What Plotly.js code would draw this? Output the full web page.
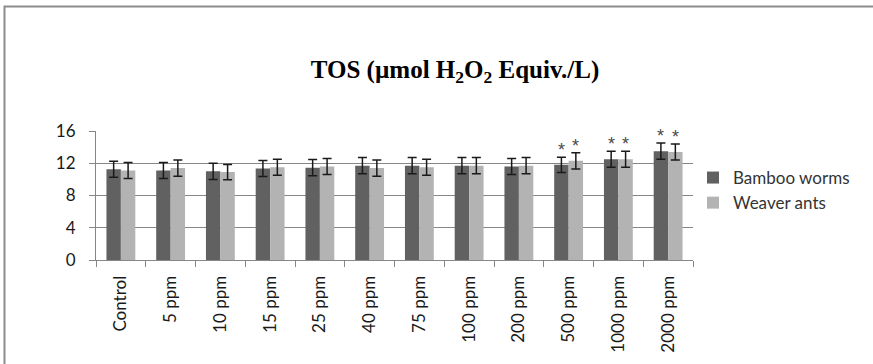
<!DOCTYPE html>
<html>
<head>
<meta charset="utf-8">
<script src="https://cdn.plot.ly/plotly-3.0.1.min.js"></script>
<style>html,body{margin:0;padding:0;background:#fff;}#chart{width:873px;height:364px;}</style>
</head>
<body>
<div id="chart"></div>
<script>
const categories = ["Control","5 ppm","10 ppm","15 ppm","25 ppm","40 ppm","75 ppm","100 ppm","200 ppm","500 ppm","1000 ppm","2000 ppm"];
const bambooWorms = [11.25, 11.1, 11.0, 11.35, 11.45, 11.7, 11.7, 11.7, 11.6, 11.8, 12.5, 13.5];
const bambooErr   = [1.0, 1.0, 1.0, 1.0, 1.0, 1.0, 1.0, 1.0, 1.0, 0.95, 1.0, 1.0];
const weaverAnts  = [11.1, 11.4, 10.9, 11.5, 11.6, 11.4, 11.5, 11.7, 11.7, 12.3, 12.5, 13.4];
const weaverErr   = [1.0, 1.0, 0.95, 1.0, 1.0, 1.0, 1.0, 1.0, 1.0, 1.0, 1.0, 1.0];
const bambooSig   = [0,0,0,0,0,0,0,0,0,1,1,1];
const weaverSig   = [0,0,0,0,0,0,0,0,0,1,1,1];

const errStyle = {thickness:1.5, width:4.5, color:'#1a1a1a'};
const traces = [
  {type:'bar', name:'Bamboo worms', x:categories, y:bambooWorms,
   marker:{color:'#616161'},
   error_y:Object.assign({type:'data', array:bambooErr, visible:true}, errStyle)},
  {type:'bar', name:'Weaver ants', x:categories, y:weaverAnts,
   marker:{color:'#b3b3b3'},
   error_y:Object.assign({type:'data', array:weaverErr, visible:true}, errStyle)}
];

const annotations = [];
function addStars(vals, errs, sig, shift){
  for(let i=0;i<categories.length;i++){
    if(sig[i]){
      annotations.push({x:categories[i], y:vals[i]+errs[i], xref:'x', yref:'y',
        text:'*', showarrow:false, xshift:shift, yanchor:'bottom', yshift:-5,
        font:{family:'Liberation Sans', size:18, color:'#4a4a4a'}});
    }
  }
}
addStars(bambooWorms, bambooErr, bambooSig, -7.3);
addStars(weaverAnts, weaverErr, weaverSig, 7.3);

const W=873, H=364, L=96, R=180, T=131, B=104;
const pw=W-L-R, ph=H-T-B;
function px(x){return (x-L)/pw;}
function py(y){return (H-B-y)/ph;}

const layout = {
  width:W, height:H,
  margin:{l:L, r:R, t:T, b:B, pad:0},
  paper_bgcolor:'#ffffff', plot_bgcolor:'#ffffff',
  barmode:'group', bargap:0.42, bargroupgap:0,
  showlegend:true,
  title:{text:'TOS (µmol H<sub>2</sub>O<sub>2</sub> Equiv./L)', xref:'paper', x:px(455), xanchor:'center',
         yref:'container', y:1-69/H, yanchor:'middle',
         font:{family:'Liberation Serif', size:25, color:'#000', weight:'bold'}},
  xaxis:{type:'category', showline:true, linecolor:'#868686', linewidth:1,
         ticks:'outside', tickson:'boundaries', ticklen:6, tickcolor:'#868686', tickwidth:1,
         tickangle:-90, ticklabelstandoff:8,
         tickfont:{family:'Lato', size:17, color:'#1a1a1a'},
         showgrid:false, zeroline:false, fixedrange:true},
  yaxis:{range:[0,16], dtick:4, tick0:0, showline:true, linecolor:'#868686', linewidth:1,
         ticks:'outside', ticklen:6, tickcolor:'#868686', tickwidth:1,
         ticklabelstandoff:10,
         tickfont:{family:'Lato', size:17, color:'#1a1a1a'},
         showgrid:true, gridcolor:'#868686', gridwidth:1, zeroline:false, fixedrange:true},
  legend:{x:px(693), xanchor:'left', y:py(160), yanchor:'top',
          font:{family:'Lato', size:17, color:'#333'}, bgcolor:'rgba(0,0,0,0)',
          itemwidth:30, tracegroupgap:0},
  annotations:annotations,
  shapes:[{type:'rect', xref:'paper', yref:'paper', x0:px(4.5), x1:px(885), y0:py(380), y1:py(6.5),
           line:{color:'#8c8c8c', width:2}, fillcolor:'rgba(0,0,0,0)', layer:'above'}]
};

Plotly.newPlot('chart', traces, layout, {displayModeBar:false, staticPlot:true});
</script>
</body>
</html>
